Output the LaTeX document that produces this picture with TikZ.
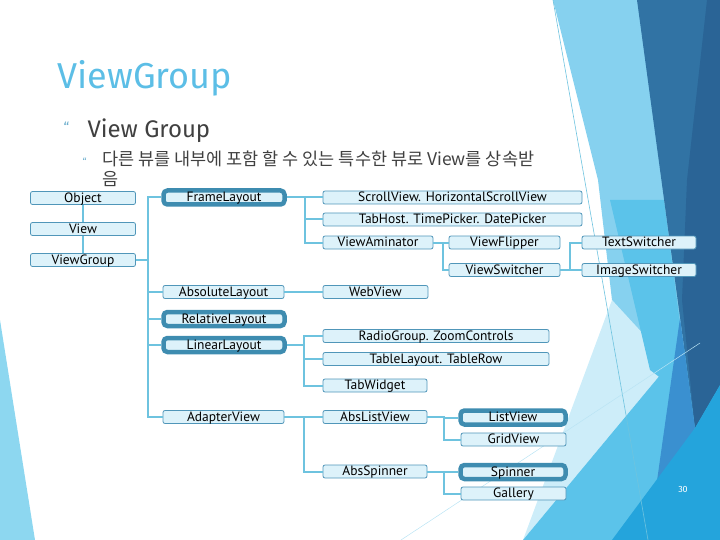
\documentclass[tikz,border=0pt]{standalone}
\usepackage{fontspec}
\setmainfont{Fira Sans}
\newfontfamily\boxfont{PT Sans}
\newfontfamily\krfont{Noto Sans CJK KR}
\usetikzlibrary{positioning}
\definecolor{titleblue}{RGB}{92,190,230}
\definecolor{textgray}{RGB}{64,64,64}
\definecolor{bulletblue}{RGB}{110,175,205}
\definecolor{boxfill}{RGB}{221,242,250}
\definecolor{boxline}{RGB}{80,150,185}
\definecolor{hlblue}{RGB}{62,140,176}
\definecolor{linkblue}{RGB}{110,195,223}
\definecolor{bgleft}{RGB}{141,215,240}
\definecolor{bglight}{RGB}{134,209,239}
\definecolor{bgpale}{RGB}{205,237,249}
\definecolor{bgmid}{RGB}{91,195,234}
\definecolor{bgdark}{RGB}{49,115,164}
\definecolor{bgdarker}{RGB}{42,100,150}
\definecolor{bgwedge}{RGB}{58,144,208}
\definecolor{bgbright}{RGB}{36,164,220}
\tikzset{%
  box/.style={draw=boxline,fill=boxfill,rounded corners=2pt,line width=0.8pt,
    minimum height=13pt,inner sep=0pt,text height=10pt,text depth=1.5pt,
    font=\boxfont\fontsize{13.5}{14}\selectfont},
  thickbox/.style={box,draw=hlblue,line width=4.5pt,rounded corners=4pt,minimum height=14pt},
  link/.style={draw=linkblue,line width=2pt}%
}

\begin{document}
\begin{tikzpicture}[x=1pt,y=-1pt]
\useasboundingbox (0,0) rectangle (720,540);

% Background facets
\fill[bgleft] (0,320) -- (35,540) -- (0,540) -- cycle;
\fill[bglight] (553,0) -- (640,0) -- (695,428) -- (660,380) -- (612,300) -- (598,180) -- cycle;
\fill[bgpale] (612,300) -- (670,363) -- (523,540) -- cycle;
\fill[bgmid] (610,200) -- (664,200) -- (690,400) -- (650,370) -- cycle;
\fill[bgmid] (523,540) -- (720,303) -- (720,540) -- cycle;
\fill[bgdark] (637,0) -- (720,0) -- (720,385) -- (695,428) -- cycle;
\fill[bgdarker] (707,0) -- (720,0) -- (720,385) -- (695,428) -- (682,300) -- (687,180) -- cycle;
\fill[bgwedge] (680,318) -- (695,428) -- (655,495) -- cycle;
\fill[bgbright] (695,428) -- (720,385) -- (720,540) -- (612,540) -- cycle;
\draw[linkblue,line width=0.6pt] (553,0) -- (648,540);
\draw[bgpale!80!linkblue,line width=0.5pt] (401,540) -- (700,343);
\node[text=white,font=\fontsize{9}{10}\selectfont] (page) at (683,489) {30};

% Title and bullets
\node[anchor=base west,text=titleblue,font=\fontsize{36}{40}\selectfont] (title) at (54,89) {ViewGroup};
\node[anchor=base west,text=bulletblue,font=\fontsize{14}{14}\selectfont] (bul1) at (60,133) {“};
\node[anchor=base west,text=textgray,font=\fontsize{24}{26}\selectfont] (head) at (84,138) {View Group};
\node[anchor=base west,text=bulletblue,font=\fontsize{10}{10}\selectfont] (bul2) at (79,166) {“};
\node[anchor=north west,text=textgray,align=left,inner sep=0pt,
  font=\krfont\fontsize{17.5}{20}\selectfont] (desc) at (102,151)
  {다른 뷰를 내부에 포함 할 수 있는 특수한 뷰로 View를 상속받\\음};

% Class hierarchy
\node[box,minimum width=105pt] (obj) at (83,198) {Object};
\node[box,minimum width=105pt] (view) at (83,229) {View};
\node[box,minimum width=105pt] (vgroup) at (83,260) {ViewGroup};

\node[thickbox,minimum width=121pt] (frame) at (224,197.5) {FrameLayout};
\node[box,minimum width=121pt] (absolute) at (223.5,292) {AbsoluteLayout};
\node[thickbox,minimum width=121pt] (relative) at (224,319) {RelativeLayout};
\node[thickbox,minimum width=121pt] (linear) at (224,345) {LinearLayout};
\node[box,minimum width=121pt] (adapter) at (223.5,417) {AdapterView};

\node[box,minimum width=259pt] (scroll) at (452.5,197.5) {ScrollView. HorizontalScrollView};
\node[box,minimum width=259pt] (tabhost) at (452.5,219.5) {TabHost. TimePicker. DatePicker};
\node[box,minimum width=110pt] (animator) at (378,242.5) {ViewAminator};
\node[box,minimum width=111pt] (flipper) at (504.5,242.5) {ViewFlipper};
\node[box,minimum width=111pt] (switcher) at (504.5,270) {ViewSwitcher};
\node[box,minimum width=114pt] (textsw) at (639,242.5) {TextSwitcher};
\node[box,minimum width=114pt] (imagesw) at (639,270) {ImageSwitcher};
\node[box,minimum width=105pt] (webview) at (375.5,292) {WebView};

\node[box,minimum width=226pt] (radio) at (436,336) {RadioGroup. ZoomControls};
\node[box,minimum width=226pt] (table) at (436,359) {TableLayout. TableRow};
\node[box,minimum width=104pt] (tabwidget) at (375,385.5) {TabWidget};

\node[box,minimum width=104pt] (abslist) at (375,417) {AbsListView};
\node[box,minimum width=104pt] (absspin) at (375,471.5) {AbsSpinner};
\node[thickbox,minimum width=105pt] (listv) at (513,417.5) {ListView};
\node[box,minimum width=105pt] (gridv) at (513.5,439.5) {GridView};
\node[thickbox,minimum width=105pt] (spinner) at (513,472) {Spinner};
\node[box,minimum width=105pt] (gallery) at (513.5,493.5) {Gallery};

% Connections
\draw[link] (obj.south) -- (view.north);
\draw[link] (view.south) -- (vgroup.north);
\foreach \c in {frame,absolute,relative,linear,adapter}
  \draw[link] (vgroup.east) -- ++(12,0) |- (\c.west);
\foreach \c in {scroll,tabhost,animator}
  \draw[link] (frame.east) -- ++(18,0) |- (\c.west);
\draw[link] (absolute.east) -- (webview.west);
\foreach \c in {radio,table,tabwidget}
  \draw[link] (linear.east) -- ++(17,0) |- (\c.west);
\foreach \c in {abslist,absspin}
  \draw[link] (adapter.east) -- ++(20,0) |- (\c.west);
\foreach \c in {flipper,switcher}
  \draw[link] (animator.east) -- ++(10,0) |- (\c.west);
\foreach \c in {textsw,imagesw}
  \draw[link] (switcher.east) -- ++(10,0) |- (\c.west);
\foreach \c in {listv,gridv}
  \draw[link] (abslist.east) -- ++(17,0) |- (\c.west);
\foreach \c in {spinner,gallery}
  \draw[link] (absspin.east) -- ++(17,0) |- (\c.west);

\end{tikzpicture}
\end{document}
